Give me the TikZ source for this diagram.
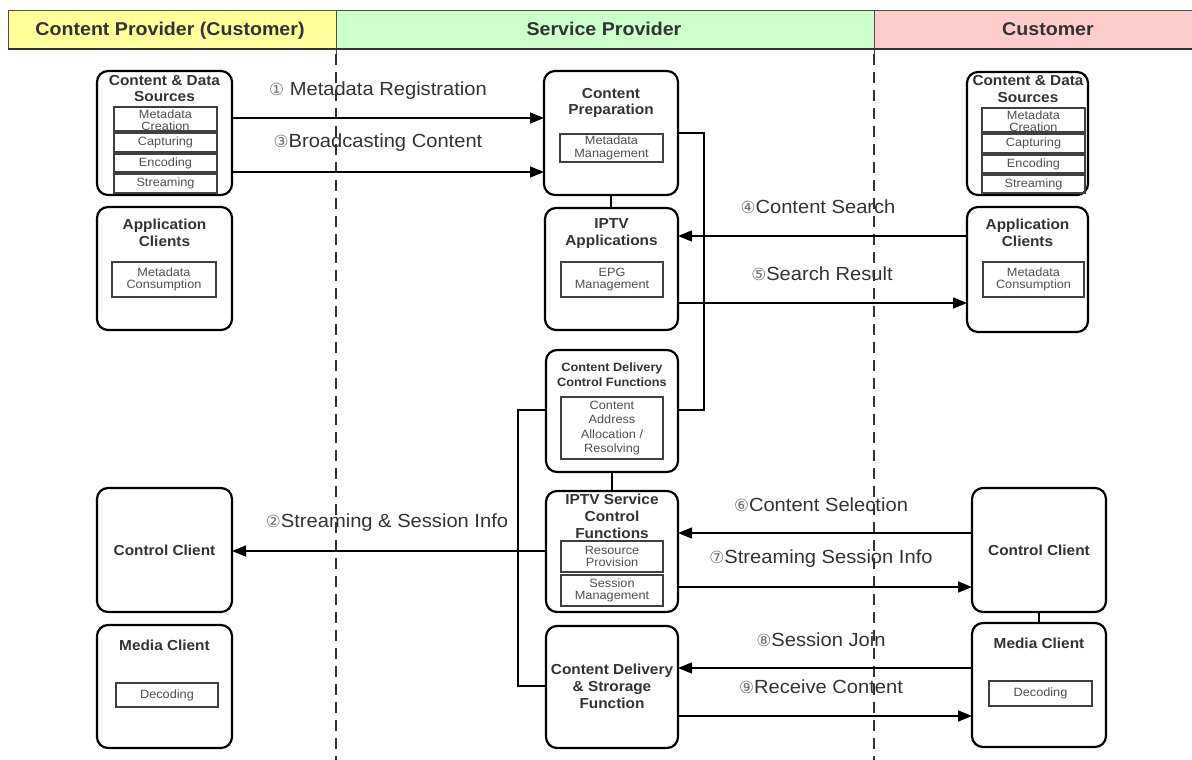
\documentclass[tikz,border=0pt]{standalone}
\usepackage{fontspec}
\setmainfont{Liberation Sans}[FakeStretch=1.06]
\newfontfamily\circfont{DejaVu Sans}[Scale=0.88]
\usetikzlibrary{arrows.meta}
\definecolor{hyel}{HTML}{FFFF99}
\definecolor{hgrn}{HTML}{CCFFCC}
\definecolor{hpnk}{HTML}{FFCCCC}
\definecolor{txtgray}{HTML}{333333}
\definecolor{subgray}{HTML}{505050}
\definecolor{circgray}{HTML}{707070}
\newcommand\cn[1]{{\circfont\color{circgray}#1}}
\newcommand\mkbox[6]{\node[#1, minimum width={(#5-#3)*1pt}, minimum height={(#6-#4)*1pt}, anchor=north west] (#2) at (#3,#4) {};}
\begin{document}
\begin{tikzpicture}[x=1pt,y=-1pt,
  box/.style={draw=black, line width=2.2pt, rounded corners=11pt, inner sep=0pt, outer sep=0pt},
  sub/.style={draw=black!75, line width=1.3pt, inner sep=0pt, outer sep=0pt},
  ttl/.style={font=\bfseries\fontsize{14.5}{16.5}\selectfont, text=txtgray, align=center, inner sep=0pt},
  sttl/.style={font=\bfseries\fontsize{12}{15}\selectfont, text=txtgray, align=center, inner sep=0pt},
  stx/.style={font=\fontsize{12}{12.5}\selectfont, text=subgray, align=center, inner sep=0pt},
  hdr/.style={font=\bfseries\fontsize{18.5}{20}\selectfont, text=txtgray, inner sep=0pt, anchor=base},
  lbl/.style={font=\fontsize{19}{21}\selectfont, text=txtgray, inner sep=0pt},
  arr/.style={line width=1.5pt, -{Triangle[length=14pt,width=11pt]}},
  lnk/.style={line width=1.4pt},
  lane/.style={line width=1.4pt, black!80, dash pattern=on 11pt off 7pt},
]
\useasboundingbox (0,0) rectangle (1192,760);
% header
\fill[hyel] (8,10) rectangle (336,49);
\fill[hgrn] (336,10) rectangle (874,49);
\fill[hpnk] (874,10) rectangle (1192,49);
\draw[black!70, line width=0.8pt] (1192,10) -- (8,10) -- (8,49);
\draw[black!70, line width=0.8pt] (336,10) -- (336,54);
\draw[black!70, line width=0.8pt] (874,10) -- (874,54);
\draw[black!80, line width=2pt] (8,49) -- (1192,49);
\node[hdr] (h1) at (170,36) {Content Provider (Customer)};
\node[hdr] (h2) at (604,36) {Service Provider};
\node[hdr] (h3) at (1048,36) {Customer};
% lanes
\draw[lane] (336,54) -- (336,760);
\draw[lane] (874,54) -- (874,760);

% ---------- left column
\mkbox{box}{lcds}{97}{71}{232}{195}
\node[ttl] at (164.5,88.5) {Content \& Data\\Sources};
\mkbox{sub}{lmc}{114}{107}{217}{131}
\node[stx] at ([yshift=-1pt]lmc.center) {Metadata\\Creation};
\mkbox{sub}{lcap}{114}{133}{217}{152}
\node[stx] at (lcap.center) {Capturing};
\mkbox{sub}{lenc}{114}{154}{217}{172}
\node[stx] at (lenc.center) {Encoding};
\mkbox{sub}{lstr}{114}{174}{217}{193}
\node[stx] at (lstr.center) {Streaming};

\mkbox{box}{lac}{97}{207}{232}{330}
\node[ttl] at (164.5,233) {Application\\Clients};
\mkbox{sub}{lmcon}{112}{262}{216}{297}
\node[stx] at (lmcon.center) {Metadata\\Consumption};

\mkbox{box}{lcc}{97}{488}{232}{612}
\node[ttl] at (lcc.center) {Control Client};

\mkbox{box}{lmed}{97}{625}{232}{748}
\node[ttl] at (164.5,645) {Media Client};
\mkbox{sub}{ldec}{116}{683}{218}{707}
\node[stx] at (ldec.center) {Decoding};

% ---------- center column
\mkbox{box}{cp}{544}{71}{678}{195}
\node[ttl] at (611,103) {Content\\Preparation};
\mkbox{sub}{cpmm}{560}{134}{663}{162}
\node[stx] at (cpmm.center) {Metadata\\Management};

\mkbox{box}{ipa}{545}{208}{678}{330}
\node[ttl] at (611.5,233.5) {IPTV\\Applications};
\mkbox{sub}{epg}{561}{262}{663}{297}
\node[stx] at (epg.center) {EPG\\Management};

\mkbox{box}{cdcf}{546}{350}{678}{472}
\node[sttl] at (612,374.5) {Content Delivery\\Control Functions};
\mkbox{sub}{caar}{561}{397}{663}{459}
\node[stx, font=\fontsize{12}{14.5}\selectfont] at (caar.center) {Content\\Address\\Allocation /\\Resolving};

\mkbox{box}{iscf}{546}{491}{678}{612}
\node[ttl, font=\bfseries\fontsize{14.5}{17}\selectfont] at (612,516) {IPTV Service\\Control\\Functions};
\mkbox{sub}{resp}{561}{541}{663}{572}
\node[stx] at (resp.center) {Resource\\Provision};
\mkbox{sub}{sesm}{561}{575}{663}{606}
\node[stx] at (sesm.center) {Session\\Management};

\mkbox{box}{cdsf}{546}{626}{678}{748}
\node[ttl, font=\bfseries\fontsize{14.5}{17}\selectfont] at (612,686) {Content Delivery\\\& Strorage\\Function};

% ---------- right column
\mkbox{box}{rcds}{967}{72}{1088}{195}
\node[ttl] at (1028,89) {Content \& Data\\Sources};
\mkbox{sub}{rmc}{982}{108}{1085}{132}
\node[stx] at ([yshift=-1pt]rmc.center) {Metadata\\Creation};
\mkbox{sub}{rcap}{982}{134}{1085}{153}
\node[stx] at (rcap.center) {Capturing};
\mkbox{sub}{renc}{982}{155}{1085}{173}
\node[stx] at (renc.center) {Encoding};
\mkbox{sub}{rstr}{982}{175}{1085}{193}
\node[stx] at (rstr.center) {Streaming};

\mkbox{box}{rac}{967}{207}{1088}{332}
\node[ttl] at (1027.5,233) {Application\\Clients};
\mkbox{sub}{rmcon}{983}{262}{1084}{297}
\node[stx] at (rmcon.center) {Metadata\\Consumption};

\mkbox{box}{rcc}{972}{488}{1106}{612}
\node[ttl] at (rcc.center) {Control Client};

\mkbox{box}{rmed}{972}{623}{1106}{747}
\node[ttl] at (1039,643) {Media Client};
\mkbox{sub}{rdec}{989}{681}{1092}{706}
\node[stx] at (rdec.center) {Decoding};

% ---------- internal links
\draw[lnk] (cp.south) -- (ipa.north -| cp.south);
\draw[lnk] (cdcf.south) -- (iscf.north);
\draw[lnk] (rcc.south) -- (rmed.north);
\coordinate (rbusT) at (704,133);
\coordinate (rbusB) at (704,410);
\draw[lnk] (cp.east |- rbusT) -- (rbusT) -- (rbusB) -- (cdcf.east |- rbusB);
\coordinate (lbusT) at (518,410);
\coordinate (lbusB) at (518,686);
\draw[lnk] (cdcf.west |- lbusT) -- (lbusT) -- (lbusB) -- (cdsf.west |- lbusB);

% ---------- flows
\draw[arr] (lcds.east |- 0,118) -- (cp.west |- 0,118);
\node[lbl] (l1) at (378,91) {\cn{①} Metadata Registration};
\draw[arr] (lcds.east |- 0,172) -- (cp.west |- 0,172);
\node[lbl] (l3) at (378,143) {\cn{③}Broadcasting Content};
\draw[arr] (iscf.west |- 0,551) -- (lcc.east |- 0,551);
\node[lbl] (l2) at (387,523) {\cn{②}Streaming \& Session Info};
\draw[arr] (rac.west |- 0,236) -- (ipa.east |- 0,236);
\node[lbl] (l4) at (818,207) {\cn{④}Content Search};
\draw[arr] (ipa.east |- 0,303) -- (rac.west |- 0,303);
\node[lbl] (l5) at (822,274) {\cn{⑤}Search Result};
\draw[arr] (rcc.west |- 0,533) -- (iscf.east |- 0,533);
\node[lbl] (l6) at (821,505) {\cn{⑥}Content Selection};
\draw[arr] (iscf.east |- 0,587) -- (rcc.west |- 0,587);
\node[lbl] (l7) at (821,559) {\cn{⑦}Streaming Session Info};
\draw[arr] (rmed.west |- 0,668) -- (cdsf.east |- 0,668);
\node[lbl] (l8) at (821,640) {\cn{⑧}Session Join};
\draw[arr] (cdsf.east |- 0,716) -- (rmed.west |- 0,716);
\node[lbl] (l9) at (821,687) {\cn{⑨}Receive Content};
\end{tikzpicture}
\end{document}
